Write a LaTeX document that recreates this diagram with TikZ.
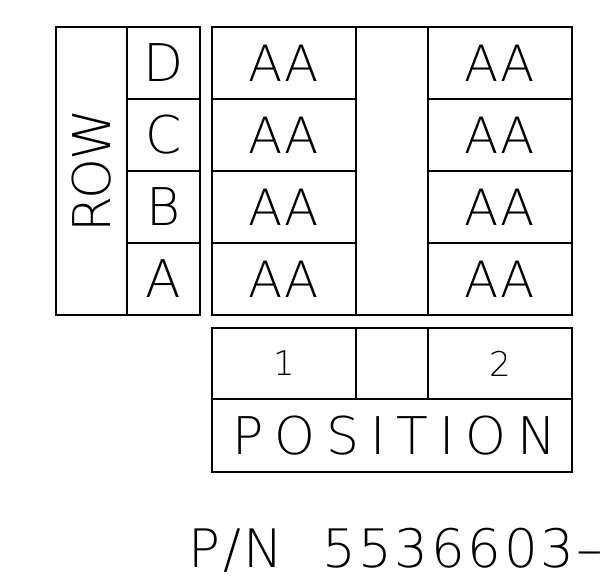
\documentclass[tikz,border=0pt]{standalone}
\usepackage{fontspec}
\setmainfont{DejaVu Sans ExtraLight}
\begin{document}
\begin{tikzpicture}[x=1pt,y=-1pt,
  box/.style={draw,line width=1.4pt,inner sep=0pt},
  big/.style={font=\fontsize{52}{52}\selectfont},
  mid/.style={font=\fontsize{50}{50}\selectfont\addfontfeatures{LetterSpace=1}},
  small/.style={font=\fontsize{34}{34}\selectfont}]
  \useasboundingbox (0,0) rectangle (605,584);

  \node[box,minimum width=71pt,minimum height=288pt] (rowbox) at (91.5,171) {};
  \node[big,rotate=90] (rowlbl) at (rowbox.center) {\addfontfeatures{LetterSpace=-5}ROW};

  \node[box,big,minimum width=73pt,minimum height=72pt] (d) at (163.5,63) {D};
  \node[box,big,minimum width=73pt,minimum height=72pt] (c) at (163.5,135) {C};
  \node[box,big,minimum width=73pt,minimum height=72pt] (b) at (163.5,207) {B};
  \node[box,big,minimum width=73pt,minimum height=72pt] (a) at (163.5,279) {A};

  \node[box,mid,minimum width=144pt,minimum height=72pt] (d1) at (284,63) {AA};
  \node[box,mid,minimum width=144pt,minimum height=72pt] (c1) at (284,135) {AA};
  \node[box,mid,minimum width=144pt,minimum height=72pt] (b1) at (284,207) {AA};
  \node[box,mid,minimum width=144pt,minimum height=72pt] (a1) at (284,279) {AA};

  \node[box,minimum width=72pt,minimum height=288pt] (gap) at (392,171) {};

  \node[box,mid,minimum width=144pt,minimum height=72pt] (d2) at (500,63) {AA};
  \node[box,mid,minimum width=144pt,minimum height=72pt] (c2) at (500,135) {AA};
  \node[box,mid,minimum width=144pt,minimum height=72pt] (b2) at (500,207) {AA};
  \node[box,mid,minimum width=144pt,minimum height=72pt] (a2) at (500,279) {AA};

  \node[box,small,minimum width=144pt,minimum height=71pt] (pos1) at (284,363.5) {1};
  \node[box,minimum width=72pt,minimum height=71pt] (posgap) at (392,363.5) {};
  \node[box,small,minimum width=144pt,minimum height=71pt] (pos2) at (500,363.5) {2};
  \node[box,big,minimum width=360pt,minimum height=73pt] (poslbl) at (392,435.5) {\addfontfeatures{LetterSpace=21}POSITION\kern-5pt};

  \node[font=\fontsize{53}{53}\selectfont\addfontfeatures{LetterSpace=5},anchor=base west] (pn) at (185,567) {P/N\ \ 5536603–};
\end{tikzpicture}
\end{document}
